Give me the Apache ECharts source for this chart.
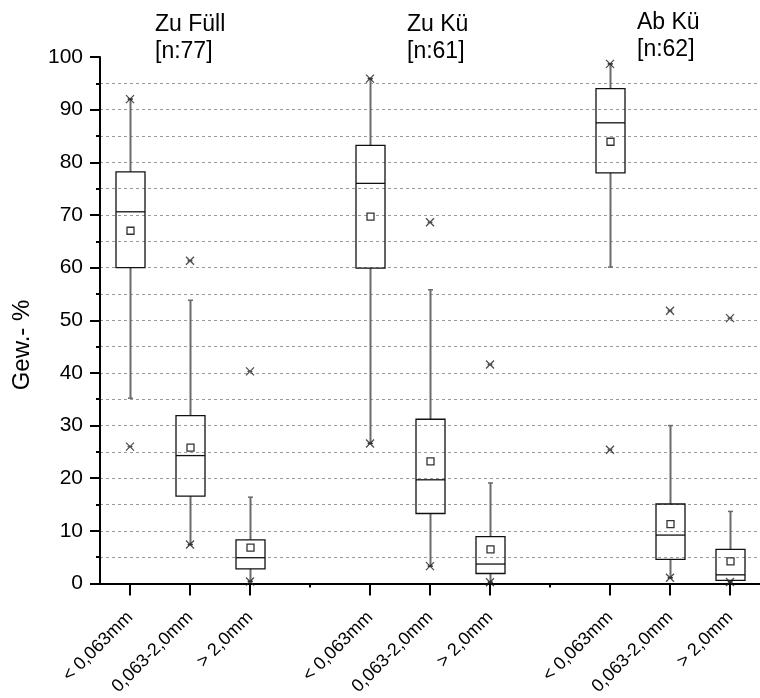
<!DOCTYPE html>
<html>
<head>
<meta charset="utf-8">
<script src="https://cdn.jsdelivr.net/npm/echarts@6/dist/echarts.min.js"></script>
<style>html,body{margin:0;padding:0;background:#fff;}#chart{width:760px;height:698px;}</style>
</head>
<body>
<div id="chart"></div>
<script>
// ---- data ----
const categories = ['< 0,063mm', '0,063-2,0mm', '> 2,0mm', '', '< 0,063mm', '0,063-2,0mm', '> 2,0mm', '', '< 0,063mm', '0,063-2,0mm', '> 2,0mm'];
const boxSlots    = [0, 1, 2, 4, 5, 6, 8, 9, 10];
const whiskerLow  = [35.2, 7.4, 0.4, 26.6, 3.3, 0.25, 60.1, 1.1, 0.3];
const q1          = [60.0, 16.6, 2.8, 59.9, 13.3, 1.9, 78.0, 4.6, 0.6];
const median      = [70.6, 24.3, 4.9, 76.0, 19.7, 3.7, 87.5, 9.2, 1.65];
const q3          = [78.2, 31.9, 8.3, 83.2, 31.2, 8.9, 94.0, 15.1, 6.5];
const whiskerHigh = [92.0, 53.8, 16.4, 95.9, 55.8, 19.1, 98.7, 30.0, 13.7];
const mean        = [67.0, 25.8, 6.8, 69.7, 23.2, 6.5, 83.9, 11.3, 4.2];
const starMax     = [92.0, 61.3, 40.3, 95.9, 68.6, 41.6, 98.7, 51.8, 50.4];
const starMin     = [26.0, 7.4, 0.4, 26.6, 3.3, 0.25, 25.4, 1.1, 0.3];
const groupNames  = ['Zu Füll', 'Zu Kü', 'Ab Kü'];
const groupN      = [77, 61, 62];
const yAxisName   = 'Gew.- %';
const yTicks      = { min: 0, max: 100, interval: 10 };

// ---- build ----
const boxData = boxSlots.map((s, i) => [s, whiskerLow[i], q1[i], median[i], q3[i], whiskerHigh[i], mean[i]]);
const starData = [];
boxSlots.forEach((s, i) => { starData.push([s, starMax[i]]); starData.push([s, starMin[i]]); });

const FONT = 'Liberation Sans, Arial, sans-serif';
const starPath = 'path://M0,0L10,10M10,0L0,10M2,5L8,5';

function renderBox(params, api) {
  const x = api.value(0);
  const lo = api.coord([x, api.value(1)]);
  const b1 = api.coord([x, api.value(2)]);
  const md = api.coord([x, api.value(3)]);
  const b3 = api.coord([x, api.value(4)]);
  const hi = api.coord([x, api.value(5)]);
  const mn = api.coord([x, api.value(6)]);
  const bw = Math.round(api.size([1, 0])[0] * 0.48);
  const cx = Math.round(b1[0]) + 0.5;
  const left = cx - bw / 2;
  const wStyle = { stroke: '#6a6a6a', lineWidth: 2 };
  const capW = 2.5;
  return {
    type: 'group',
    children: [
      { type: 'line', shape: { x1: cx, y1: b3[1], x2: cx, y2: hi[1] }, style: wStyle },
      { type: 'line', shape: { x1: cx, y1: b1[1], x2: cx, y2: lo[1] }, style: wStyle },
      { type: 'line', shape: { x1: cx - capW, y1: hi[1], x2: cx + capW, y2: hi[1] }, style: { stroke: '#6a6a6a', lineWidth: 1.5 } },
      { type: 'line', shape: { x1: cx - capW, y1: lo[1], x2: cx + capW, y2: lo[1] }, style: { stroke: '#6a6a6a', lineWidth: 1.5 } },
      { type: 'rect', shape: { x: left, y: b3[1], width: bw, height: b1[1] - b3[1] }, style: { fill: 'none', stroke: '#111', lineWidth: 1.3 } },
      { type: 'line', shape: { x1: left, y1: md[1], x2: left + bw, y2: md[1] }, style: { stroke: '#111', lineWidth: 1.3 } },
      { type: 'rect', shape: { x: cx - 3.5, y: mn[1] - 3.5, width: 7, height: 7 }, style: { fill: '#fff', stroke: '#333', lineWidth: 1.3 } }
    ]
  };
}

const titleGraphics = [];
const titleX = [155, 407, 637];
const titleY = [11, 11, 9];
groupNames.forEach((g, i) => {
  titleGraphics.push({
    type: 'text', left: titleX[i], top: titleY[i],
    style: { text: g + '\n[n:' + groupN[i] + ']', font: '23px ' + FONT, fill: '#000', lineHeight: 27 }
  });
});
titleGraphics.push({
  type: 'text', x: 22, y: 345, rotation: Math.PI / 2,
  style: { text: yAxisName, font: '24px ' + FONT, fill: '#000', align: 'center', verticalAlign: 'middle' }
});

const dash = { color: '#9a9a9a', type: [3, 3], width: 1 };

const option = {
  animation: false,
  backgroundColor: '#fff',
  grid: { left: 100, top: 57, bottom: 114, right: -10, containLabel: false },
  xAxis: [
    {
      type: 'category', data: categories, boundaryGap: true,
      axisLine: { show: true, lineStyle: { color: '#000', width: 2 } },
      axisTick: { show: true, alignWithLabel: true, length: 12, lineStyle: { color: '#000', width: 2 },
                  interval: (i) => categories[i] !== '' },
      axisLabel: { interval: 0, rotate: 45, margin: 31, fontSize: 18, fontFamily: FONT, color: '#000' },
      splitLine: { show: false }
    },
    {
      type: 'category', data: categories, boundaryGap: true, position: 'bottom',
      axisLine: { show: false },
      axisTick: { show: true, alignWithLabel: true, length: 4, lineStyle: { color: '#000', width: 2 },
                  interval: (i) => categories[i] === '' },
      axisLabel: { show: false },
      splitLine: { show: false }
    }
  ],
  yAxis: {
    type: 'value', min: yTicks.min, max: yTicks.max, interval: yTicks.interval,
    axisLine: { show: true, lineStyle: { color: '#000', width: 2 } },
    axisTick: { show: true, length: 10, lineStyle: { color: '#000', width: 2 } },
    minorTick: { show: true, splitNumber: 2, length: 4, lineStyle: { color: '#000', width: 2 } },
    axisLabel: { margin: 17, fontSize: 21, fontFamily: FONT, color: '#000' },
    splitLine: { show: true, showMinLine: false, showMaxLine: false, lineStyle: dash },
    minorSplitLine: { show: true, lineStyle: dash }
  },
  series: [
    {
      type: 'custom', renderItem: renderBox, data: boxData,
      encode: { x: 0, y: [1, 2, 3, 4, 5, 6] }, z: 3, clip: false
    },
    {
      type: 'scatter', data: starData, symbol: starPath, symbolSize: 8,
      itemStyle: { color: 'none', borderColor: '#222', borderWidth: 1.3 }, z: 4
    }
  ],
  graphic: titleGraphics
};

const chart = echarts.init(document.getElementById('chart'), null, { renderer: 'canvas' });
chart.setOption(option);
</script>
</body>
</html>
